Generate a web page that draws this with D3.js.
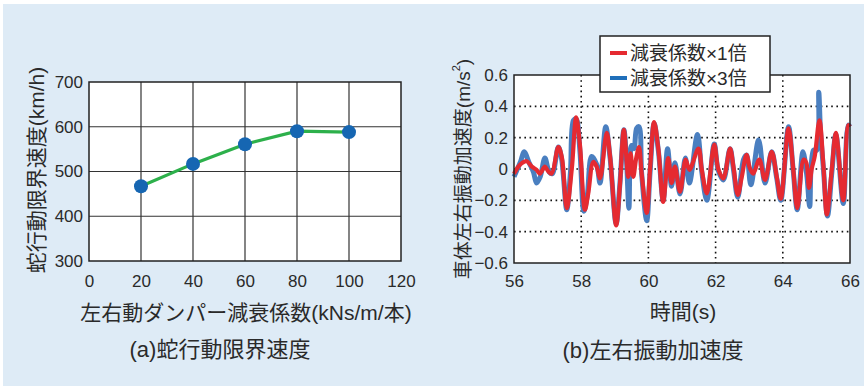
<!DOCTYPE html>
<html>
<head>
<meta charset="utf-8">
<script src="https://cdn.jsdelivr.net/npm/d3@7"></script>
<style>
body{margin:0;background:#ffffff;}
text{font-family:"Liberation Sans","Noto Sans CJK JP",sans-serif;fill:#2a2a2a;}
</style>
</head>
<body>
<svg></svg>
<script>
// (a) damper coefficient vs critical speed
var damperX = [20,40,60,80,100];
var critSpeed = [467,517,561,590,588];
var leftXTicks = [0,20,40,60,80,100,120];
var leftYTicks = [300,400,500,600,700];

// (b) lateral acceleration
var redT = [56.00,56.13,56.25,56.38,56.53,56.67,56.77,56.92,57.02,57.12,57.32,57.42,57.57,57.72,57.85,57.96,
    58.11,58.21,58.36,58.46,58.56,58.76,58.86,59.04,59.15,59.27,59.40,59.47,59.55,59.63,59.72,59.80,59.95,
    60.05,60.17,60.30,60.44,60.59,60.69,60.79,60.94,61.11,61.22,61.49,61.59,61.74,61.96,62.08,62.23,62.43,
    62.53,62.66,62.78,62.92,63.02,63.12,63.30,63.47,63.67,63.82,63.94,64.17,64.31,64.43,64.62,64.70,64.78,
    64.86,64.95,65.09,65.21,65.31,65.46,65.58,65.80,65.95,66.00];
var redV = [-0.03,0.015,0.04,0.05,0.015,-0.005,-0.03,0.015,-0.015,-0.03,0.14,0.08,-0.25,0.0,0.33,0.16,
    -0.26,-0.155,0.045,0.015,-0.06,0.23,0.08,-0.36,-0.11,0.25,-0.05,0.10,-0.05,0.06,0.14,-0.03,-0.28,
    0.0,0.30,0.12,-0.21,0.07,-0.09,0.015,-0.145,0.06,-0.005,0.13,-0.005,-0.155,0.155,0.0,-0.06,0.13,
    0.015,-0.165,-0.05,0.09,0.005,-0.03,0.06,-0.07,0.11,-0.05,-0.19,0.26,0.0,-0.25,0.06,0.04,-0.12,
    0.0,0.08,0.31,0.015,-0.29,0.0,0.23,-0.20,0.28,0.27];
var blueT = [56.00,56.10,56.20,56.30,56.45,56.58,56.67,56.78,56.92,57.05,57.14,57.32,57.42,57.57,57.68,57.77,
    57.85,57.96,58.08,58.18,58.31,58.46,58.56,58.73,58.86,59.04,59.15,59.27,59.35,59.42,59.50,59.57,59.65,
    59.72,59.80,59.95,60.05,60.17,60.30,60.44,60.57,60.69,60.79,60.94,61.10,61.22,61.46,61.59,61.74,61.96,
    62.08,62.23,62.43,62.53,62.66,62.83,62.92,63.05,63.28,63.47,63.67,63.82,63.94,64.17,64.31,64.43,64.60,
    64.72,64.80,64.91,65.01,65.07,65.12,65.21,65.33,65.46,65.58,65.80,65.95,66.00];
var blueV = [-0.05,0.0,0.05,0.11,0.04,-0.02,-0.09,-0.05,0.07,-0.02,-0.03,0.14,0.06,-0.26,-0.02,0.31,
    0.32,0.12,-0.27,-0.17,0.08,0.03,-0.09,0.27,0.07,-0.35,-0.10,0.25,0.05,-0.25,0.15,0.13,0.26,
    0.27,-0.03,-0.33,-0.02,0.29,0.11,-0.20,0.13,-0.11,0.04,-0.16,0.07,-0.09,0.22,-0.02,-0.20,0.16,
    -0.01,-0.07,0.13,0.0,-0.18,0.06,0.09,-0.10,0.185,-0.09,0.11,-0.06,-0.20,0.27,-0.01,-0.26,0.11,
    -0.05,-0.24,0.12,0.12,0.49,0.25,0.0,-0.30,-0.02,0.22,-0.22,0.28,0.27];
var rightXTicks = [56,58,60,62,64,66];
var rightYTicks = [-0.6,-0.4,-0.2,0,0.2,0.4,0.6];
var legendLabels = ["減衰係数×1倍","減衰係数×3倍"];

var svg = d3.select("svg").attr("width",867).attr("height",389);

svg.append("rect")
    .attr("x",3).attr("y",4).attr("width",861).attr("height",382)
    .attr("fill","#deebf6");

var drawLeft = function()
{
    var plot = {left:89,right:401,top:82,bottom:261};
    var xScale = d3.scaleLinear().domain([0,120]).range([plot.left,plot.right]);
    var yScale = d3.scaleLinear().domain([300,700]).range([plot.bottom,plot.top]);
    var g = svg.append("g");

    g.append("rect")
        .attr("x",plot.left).attr("y",plot.top)
        .attr("width",plot.right-plot.left).attr("height",plot.bottom-plot.top)
        .attr("fill","#fff");

    //grid
    g.selectAll(".vg").data(leftXTicks.slice(1,-1)).enter().append("line")
        .attr("x1",xScale).attr("x2",xScale)
        .attr("y1",plot.top).attr("y2",plot.bottom)
        .attr("stroke","#333").attr("stroke-width",1.2);
    g.selectAll(".hg").data(leftYTicks.slice(1,-1)).enter().append("line")
        .attr("y1",yScale).attr("y2",yScale)
        .attr("x1",plot.left).attr("x2",plot.right)
        .attr("stroke","#333").attr("stroke-width",1.2);

    g.append("rect")
        .attr("x",plot.left).attr("y",plot.top)
        .attr("width",plot.right-plot.left).attr("height",plot.bottom-plot.top)
        .attr("fill","none").attr("stroke","#222").attr("stroke-width",1.5);

    var xAxis = d3.axisBottom(xScale).tickValues(leftXTicks).tickSize(0).tickPadding(14);
    var yAxis = d3.axisLeft(yScale).tickValues(leftYTicks).tickSize(0).tickPadding(6);
    g.append("g").attr("transform","translate(0,"+plot.bottom+")").call(xAxis)
        .call(function(a){a.select(".domain").remove();})
        .selectAll("text").attr("font-size",17).attr("fill","#444");
    g.append("g").attr("transform","translate("+plot.left+",0)").call(yAxis)
        .call(function(a){a.select(".domain").remove();})
        .selectAll("text").attr("font-size",17).attr("fill","#444");

    var pts = damperX.map(function(d,i){return [d,critSpeed[i]];});
    var line = d3.line().x(function(d){return xScale(d[0]);}).y(function(d){return yScale(d[1]);});
    g.append("path").datum(pts).attr("d",line)
        .attr("fill","none").attr("stroke","#2db04b").attr("stroke-width",3.2);
    g.selectAll(".pt").data(pts).enter().append("circle")
        .attr("cx",function(d){return xScale(d[0]);})
        .attr("cy",function(d){return yScale(d[1]);})
        .attr("r",7).attr("fill","#1666b2");

    g.append("text").text("左右動ダンパー減衰係数(kNs/m/本)")
        .attr("x",246).attr("y",312).attr("text-anchor","middle")
        .attr("dominant-baseline","central").attr("font-size",21);
    g.append("text").text("蛇行動限界速度(km/h)")
        .attr("transform","translate(36,170) rotate(-90)")
        .attr("text-anchor","middle").attr("dominant-baseline","central")
        .attr("font-size",21);
    g.append("text").text("(a)蛇行動限界速度")
        .attr("x",220).attr("y",349).attr("text-anchor","middle")
        .attr("dominant-baseline","central").attr("font-size",22);
}

var drawRight = function()
{
    var plot = {left:514,right:850,top:75,bottom:263};
    var xScale = d3.scaleLinear().domain([56,66]).range([plot.left,plot.right]);
    var yScale = d3.scaleLinear().domain([-0.6,0.6]).range([plot.bottom,plot.top]);
    var g = svg.append("g");

    g.append("rect")
        .attr("x",plot.left).attr("y",plot.top)
        .attr("width",plot.right-plot.left).attr("height",plot.bottom-plot.top)
        .attr("fill","#fff");

    g.selectAll(".vg").data(rightXTicks.slice(1,-1)).enter().append("line")
        .attr("x1",xScale).attr("x2",xScale)
        .attr("y1",plot.top).attr("y2",plot.bottom)
        .attr("stroke","#111").attr("stroke-width",1.6).attr("stroke-dasharray","1.6,3.6");
    g.selectAll(".hg").data(rightYTicks.slice(1,-1)).enter().append("line")
        .attr("y1",yScale).attr("y2",yScale)
        .attr("x1",plot.left).attr("x2",plot.right)
        .attr("stroke","#111").attr("stroke-width",1.6).attr("stroke-dasharray","1.6,3.6");

    var line = d3.line()
        .x(function(d){return xScale(d[0]);})
        .y(function(d){return yScale(d[1]);})
        .curve(d3.curveCatmullRom.alpha(0.5));
    var blue = blueT.map(function(t,i){return [t,blueV[i]];});
    var red = redT.map(function(t,i){return [t,redV[i]];});
    g.append("path").datum(blue).attr("d",line)
        .attr("fill","none").attr("stroke","#4a7fc0").attr("stroke-width",5)
        .attr("stroke-linejoin","round");
    g.append("path").datum(red).attr("d",line)
        .attr("fill","none").attr("stroke","#e52a31").attr("stroke-width",4.2)
        .attr("stroke-linejoin","round");

    g.append("rect")
        .attr("x",plot.left).attr("y",plot.top)
        .attr("width",plot.right-plot.left).attr("height",plot.bottom-plot.top)
        .attr("fill","none").attr("stroke","#222").attr("stroke-width",1.5);

    var xAxis = d3.axisBottom(xScale).tickValues(rightXTicks).tickSize(0).tickPadding(12)
        .tickFormat(d3.format("d"));
    var yAxis = d3.axisLeft(yScale).tickValues(rightYTicks).tickSize(0).tickPadding(6)
        .tickFormat(function(d){return d===0?"0":d3.format(".1f")(d).replace("-","−");});
    g.append("g").attr("transform","translate(0,"+plot.bottom+")").call(xAxis)
        .call(function(a){a.select(".domain").remove();})
        .selectAll("text").attr("font-size",17).attr("fill","#444");
    g.append("g").attr("transform","translate("+plot.left+",0)").call(yAxis)
        .call(function(a){a.select(".domain").remove();})
        .selectAll("text").attr("font-size",17).attr("fill","#444");

    //legend
    var lg = g.append("g");
    lg.append("rect").attr("x",600).attr("y",36).attr("width",170).attr("height",56)
        .attr("fill","#fff").attr("stroke","#222").attr("stroke-width",1.5);
    var colors = ["#e52a31","#1f6fba"];
    legendLabels.forEach(function(lab,i){
        var y = 53+i*25;
        lg.append("line").attr("x1",610).attr("x2",627).attr("y1",y).attr("y2",y)
            .attr("stroke",colors[i]).attr("stroke-width",4);
        lg.append("text").text(lab).attr("x",630).attr("y",y)
            .attr("dominant-baseline","central").attr("font-size",19);
    });

    g.append("text").text("時間(s)")
        .attr("x",683).attr("y",311).attr("text-anchor","middle")
        .attr("dominant-baseline","central").attr("font-size",21);
    var yt = g.append("text")
        .attr("transform","translate(463,169) rotate(-90)")
        .attr("text-anchor","middle").attr("dominant-baseline","central")
        .attr("font-size",19);
    yt.append("tspan").text("車体左右振動加速度(m/s");
    yt.append("tspan").text("2").attr("font-size",11).attr("dy",-7);
    yt.append("tspan").text(")").attr("dy",7);
    g.append("text").text("(b)左右振動加速度")
        .attr("x",653).attr("y",350).attr("text-anchor","middle")
        .attr("dominant-baseline","central").attr("font-size",22);
}

drawLeft();
drawRight();
</script>
</body>
</html>
